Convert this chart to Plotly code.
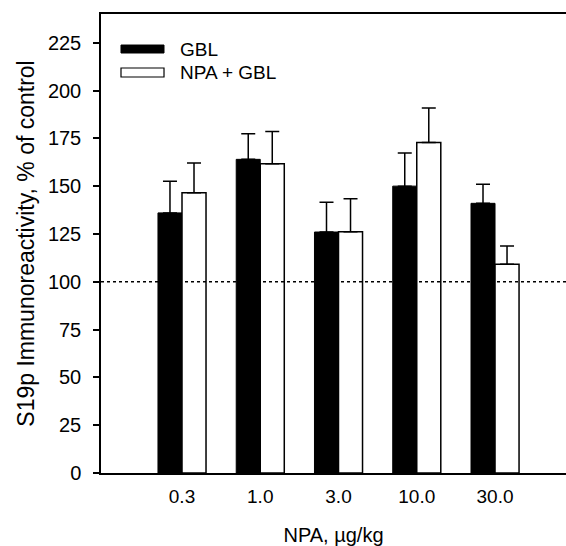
import plotly.graph_objects as go

categories = ["0.3", "1.0", "3.0", "10.0", "30.0"]
gbl = [136, 164, 126, 150, 141]
gbl_err = [16.5, 13.4, 15.6, 17.3, 10]
npa_gbl = [146.5, 161.7, 126.2, 172.8, 109.1]
npa_gbl_err = [15.6, 16.8, 17.2, 18, 9.6]
y_ticks = [0, 25, 50, 75, 100, 125, 150, 175, 200, 225]
control_level = 100

xpos = list(range(len(categories)))
FONT = "Liberation Sans, Arial, sans-serif"

fig = go.Figure()
fig.add_trace(go.Bar(
    x=xpos, y=gbl, name="GBL",
    marker=dict(color="black", line=dict(color="black", width=1)),
    error_y=dict(type="data", symmetric=False, array=gbl_err,
                 arrayminus=[0] * len(gbl), color="black", thickness=1.5, width=7),
    showlegend=False,
))
fig.add_trace(go.Bar(
    x=xpos, y=npa_gbl, name="NPA + GBL",
    marker=dict(color="white", line=dict(color="black", width=1.5)),
    error_y=dict(type="data", symmetric=False, array=npa_gbl_err,
                 arrayminus=[0] * len(npa_gbl), color="black", thickness=1.5, width=7),
    showlegend=False,
))

fig.update_layout(
    width=566, height=546,
    margin=dict(l=101, r=0, t=14, b=73),
    paper_bgcolor="white", plot_bgcolor="white",
    barmode="group", bargap=0.386, bargroupgap=0,
    font=dict(family=FONT, size=19, color="black"),
    xaxis=dict(
        range=[-1.035, 4.907], tickvals=xpos, ticktext=categories,
        showline=True, linecolor="black", linewidth=1.5, mirror=True,
        ticks="", showgrid=False, zeroline=False,
        tickfont=dict(size=19),
        ticklabelstandoff=5,
        title=dict(text="NPA, µg/kg", font=dict(size=20), standoff=22),
    ),
    yaxis=dict(
        range=[0, 240], tickvals=y_ticks,
        showline=True, linecolor="black", linewidth=1.5, mirror=False,
        ticks="outside", ticklen=6, tickwidth=1.5, tickcolor="black",
        showgrid=False, zeroline=False,
        tickfont=dict(size=20),
        ticklabelstandoff=8,
        title=dict(text="S19p Immunoreactivity, % of control", font=dict(size=23), standoff=7),
    ),
)

# control reference line
fig.add_shape(type="line", xref="paper", yref="y", x0=0, x1=1,
              y0=control_level, y1=control_level,
              line=dict(color="black", width=1.5, dash="dot"), layer="above")

# manual legend
fig.add_shape(type="rect", xref="paper", yref="paper", x0=0.043, x1=0.1355,
              y0=0.915, y1=0.9324, fillcolor="black", line=dict(color="black", width=1))
fig.add_shape(type="rect", xref="paper", yref="paper", x0=0.043, x1=0.1355,
              y0=0.8627, y1=0.8823, fillcolor="white", line=dict(color="black", width=1.2))
fig.add_annotation(xref="paper", yref="paper", x=0.1656, y=0.9237, text="GBL",
                   showarrow=False, xanchor="left", yanchor="middle", font=dict(size=19))
fig.add_annotation(xref="paper", yref="paper", x=0.1656, y=0.8725, text="NPA + GBL",
                   showarrow=False, xanchor="left", yanchor="middle", font=dict(size=19))

fig.write_html(
    "out.html",
    config={"displayModeBar": False},
    post_script="document.body.style.margin='0';document.body.style.overflow='hidden';",
)
